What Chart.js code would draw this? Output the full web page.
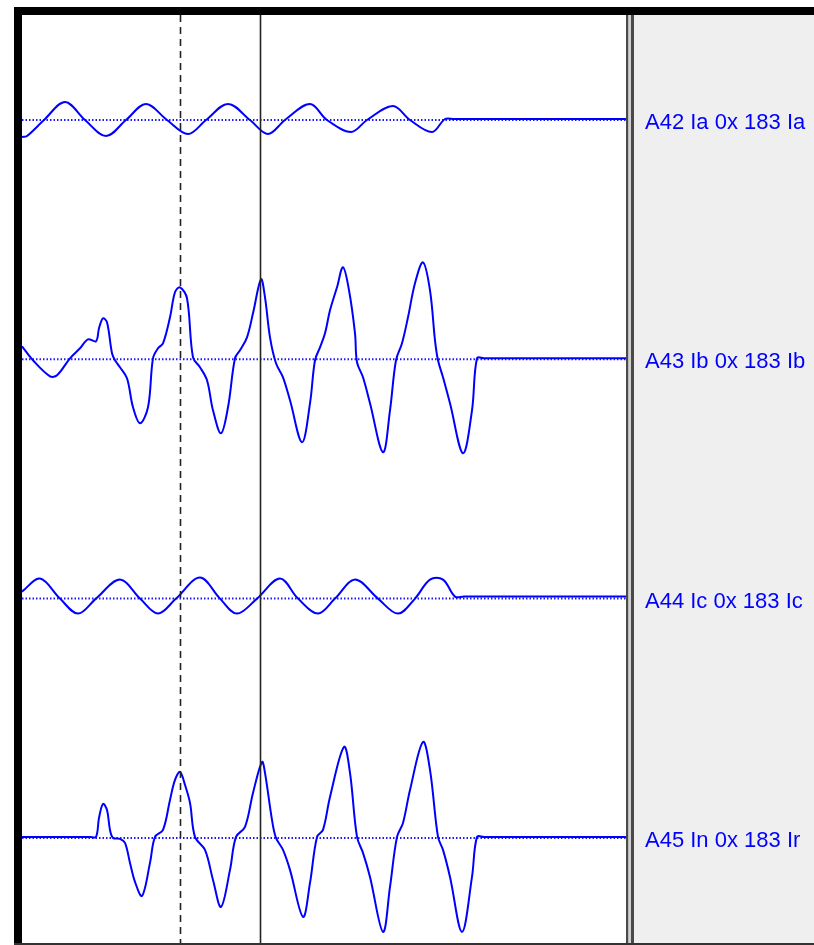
<!DOCTYPE html>
<html>
<head>
<meta charset="utf-8">
<script src="https://cdn.jsdelivr.net/npm/chart.js@4/dist/chart.umd.min.js"></script>
<style>
  body { margin: 0; background: #fff; }
  #wrap { position: relative; width: 814px; height: 945px; }
</style>
</head>
<body>
<div id="wrap"><canvas id="wave" width="814" height="945"></canvas></div>
<script>
// Kanal-Beschriftungen (rechts)
const channelLabels = ['A42 Ia 0x 183 Ia', 'A43 Ib 0x 183 Ib', 'A44 Ic 0x 183 Ic', 'A45 In 0x 183 Ir'];

// Messpunkte [Zeit ms, Amplitude]
const iaPoints = [[0,-17],[1.25,-16],[5.5,0],[10.75,18],[15.75,0],[21,-16],[26,0],[31,16],[36.25,0],[41.5,-14],
  [46,0],[51.5,16],[57,0],[61.5,-14],[65.75,0],[72,16],[76.25,0],[82.25,-12],[86.25,0],[92.75,14],
  [97,0],[102.5,-12],[105.75,1],[108,1],[151,1]];

const ibPoints = [[0,13],[2.75,-1],[7,-17],[8.75,-16],[12,1],[14.5,11],[16.5,20],[18.5,18],[19.25,31],[20.25,41],
  [21.25,37],[22.5,6],[23.25,-1],[24.5,-8],[26.25,-19],[27.75,-48],[29.5,-64],[31.5,-48],[32.75,1],[34,11],
  [35.25,16],[37,42],[38.25,67],[39.5,72],[41.25,61],[42.75,2],[44.5,-8],[46.25,-21],[47.75,-51],[49.75,-74],
  [51.5,-48],[53.25,1],[54.5,9],[56.25,22],[57.75,46],[59.75,80],[60.75,62],[62,22],[63.5,-4],[65.25,-18],
  [67,-41],[70,-83],[72,-44],[73.25,-1],[74.5,12],[75.75,26],[77,49],[78.75,72],[80.25,92],[81.75,69],
  [83.25,26],[83.75,-3],[85.25,-18],[87,-44],[90.25,-93],[92,-51],[93.5,-1],[95,16],[96.5,42],[98.25,76],
  [100.25,97],[102,69],[103.25,19],[104,-1],[105.25,-18],[107,-44],[110.25,-94],[112.5,-51],[113.75,1],[115.5,1],[151,1]];

const icPoints = [[0,7],[4.5,20],[9.5,0],[14,-15],[18.5,0],[24.5,19],[29.5,0],[34,-15],[38.5,0],[44.5,21],
  [49.5,0],[53.75,-15],[58.75,0],[64.5,20],[69,0],[74,-15],[78.25,0],[83.25,19],[89,0],[94,-15],
  [98.25,0],[102,19],[105.25,19],[108.25,2],[110.5,2],[151,2]];

const inPoints = [[0,1],[17,1],[18.5,1],[19.25,20],[20.25,34],[21.25,28],[22,8],[22.75,0],[24.5,-1],[25.75,-5],[27,-25],
  [28.25,-44],[30,-58],[32,-25],[33.25,1],[35.25,8],[37,38],[38.25,58],[39.5,66],[40.75,53],[42,35],
  [43.25,1],[45.75,-12],[47.75,-42],[49.75,-69],[52,-32],[53.5,1],[55.75,11],[57.75,45],[60,76],[60.75,65],
  [62.5,18],[63.5,0],[65.25,-12],[67,-32],[70.25,-79],[72,-45],[73.75,1],[75.25,8],[77,41],[80.5,91],
  [82,65],[83.75,1],[85.25,-15],[87,-39],[90.25,-94],[92,-49],[93.75,1],[95.25,15],[97,48],[100.25,96],
  [102,68],[104,1],[105.25,-12],[107,-39],[110,-94],[112.5,-39],[113.75,1],[115.5,1],[151,1]];

// Cursor-Zeiten (gestrichelt, durchgezogen)
const cursorTimes = [39.5, 59.5];

const traces = [iaPoints, ibPoints, icPoints, inPoints];
const tEnd = 151;
const chanOffset = i => -(105 + i * 239.3);

const datasets = [];
traces.forEach((pts, i) => {
  datasets.push({
    data: pts.map(p => ({ x: p[0], y: chanOffset(i) + p[1] })),
    borderColor: '#0000ff',
    borderWidth: 2,
    pointRadius: 0,
    tension: 0.35,
    order: 1
  });
});
traces.forEach((pts, i) => {
  datasets.push({
    data: [{ x: 0, y: chanOffset(i) }, { x: tEnd, y: chanOffset(i) }],
    borderColor: '#1a1aff',
    borderWidth: 2,
    borderDash: [1.5, 2],
    pointRadius: 0,
    order: 2
  });
});

// Rahmen, Cursor, Beschriftung
const framePlugin = {
  id: 'frame',
  beforeDraw(chart) {
    const c = chart.ctx;
    c.save();
    c.fillStyle = '#fff';
    c.fillRect(0, 0, chart.width, chart.height);
    c.restore();
  },
  afterDatasetsDraw(chart) {
    const c = chart.ctx;
    const xs = chart.scales.x;
    const area = chart.chartArea;
    c.save();
    cursorTimes.forEach((t, k) => {
      const px = Math.round(xs.getPixelForValue(t)) + 0.5;
      c.strokeStyle = '#222';
      c.lineWidth = 1.6;
      c.setLineDash(k === 0 ? [7, 5] : []);
      c.beginPath();
      c.moveTo(px, area.top);
      c.lineTo(px, area.bottom);
      c.stroke();
    });
    c.restore();
  },
  afterDraw(chart) {
    const c = chart.ctx;
    const ys = chart.scales.y;
    const area = chart.chartArea;
    c.save();
    // rechtes Feld
    c.fillStyle = '#efefef';
    c.fillRect(634, area.top, chart.width - 634, area.bottom - area.top);
    c.fillStyle = '#4a4a4a';
    c.fillRect(626, area.top, 2.5, area.bottom - area.top);
    c.fillStyle = '#d0d0d0';
    c.fillRect(628.5, area.top, 2.5, area.bottom - area.top);
    c.fillStyle = '#4a4a4a';
    c.fillRect(631, area.top, 3, area.bottom - area.top);
    // schwarzer Rahmen
    c.fillStyle = '#000';
    c.fillRect(14, 7, chart.width - 14, 8);
    c.fillRect(14, 7, 8, chart.height - 7);
    c.fillStyle = '#333';
    c.fillRect(14, 943, chart.width - 14, 2);
    // Beschriftung
    c.fillStyle = '#0000ff';
    c.font = '22px "Liberation Sans", Arial, sans-serif';
    c.textBaseline = 'middle';
    channelLabels.forEach((lab, i) => {
      c.fillText(lab, 645, ys.getPixelForValue(chanOffset(i)) + 3);
    });
    c.restore();
  }
};

new Chart(document.getElementById('wave'), {
  type: 'line',
  data: { datasets: datasets },
  options: {
    responsive: false,
    animation: false,
    events: [],
    layout: { padding: { left: 22, right: 188, top: 15, bottom: 2 } },
    scales: {
      x: { type: 'linear', min: 0, max: tEnd, display: false },
      y: { min: -928, max: 0, display: false }
    },
    plugins: { legend: { display: false }, tooltip: { enabled: false } }
  },
  plugins: [framePlugin]
});
</script>
</body>
</html>
